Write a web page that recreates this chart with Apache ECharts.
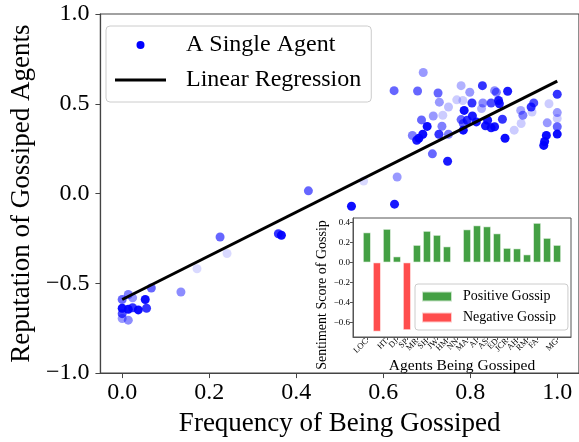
<!DOCTYPE html>
<html>
<head>
<meta charset="utf-8">
<script src="https://cdn.jsdelivr.net/npm/echarts@6/dist/echarts.min.js"></script>
<style>
  html, body { margin: 0; padding: 0; background: #fff; }
  #chart { width: 579px; height: 442px; }
</style>
</head>
<body>
<div id="chart"></div>
<script>
// scatter: frequency of being gossiped vs reputation, one point per agent
const agentFreq = [
  0.000, 0.014, 0.024, 0.053, 0.067, 0.000, 0.014, 0.024, 0.037, 0.056,
  0.000, 0.000, 0.014, 0.135, 0.172, 0.225, 0.241, 0.359, 0.366, 0.428,
  0.527, 0.555, 0.626, 0.632, 0.692, 0.625, 0.679, 0.726, 0.779, 0.799,
  0.828, 0.856, 0.860, 0.886, 1.000, 0.729, 0.769, 0.783, 0.750, 0.804,
  0.829, 0.848, 0.865, 0.867, 0.786, 0.826, 0.946, 0.940, 0.981, 0.916,
  0.921, 0.942, 1.000, 1.000, 0.977, 1.000, 1.000, 0.975, 0.971, 0.969,
  0.917, 0.901, 0.880, 0.874, 0.856, 0.835, 0.840, 0.814, 0.805, 0.793,
  0.779, 0.784, 0.784, 0.737, 0.715, 0.688, 0.701, 0.735, 0.750, 0.728,
  0.691, 0.682, 0.677, 0.667, 0.713, 0.748, 0.848
];
const agentRep = [
  -0.590, -0.562, -0.581, -0.590, -0.526, -0.639, -0.645, -0.636, -0.648, -0.639,
  -0.669, -0.696, -0.705, -0.548, -0.419, -0.242, -0.334, -0.224, -0.232, 0.015,
  -0.071, 0.070, -0.059, 0.092, 0.674, 0.573, 0.571, 0.560, 0.601, 0.564,
  0.601, 0.573, 0.564, 0.570, 0.553, 0.509, 0.522, 0.518, 0.482, 0.504,
  0.504, 0.504, 0.518, 0.500, 0.463, 0.473, 0.505, 0.482, 0.500, 0.463,
  0.436, 0.454, 0.451, 0.418, 0.394, 0.372, 0.331, 0.324, 0.290, 0.268,
  0.390, 0.353, 0.308, 0.414, 0.372, 0.377, 0.408, 0.399, 0.432, 0.408,
  0.412, 0.353, 0.390, 0.436, 0.432, 0.410, 0.374, 0.375, 0.330, 0.330,
  0.330, 0.308, 0.297, 0.323, 0.221, 0.180, 0.366
];
const agentAlpha = [
  0.6, 0.5, 0.4, 0.95, 0.6, 0.95, 0.95, 0.8, 0.95, 0.8,
  0.7, 0.4, 0.45, 0.45, 0.15, 0.6, 0.15, 0.8, 0.95, 0.6,
  0.95, 0.15, 0.9, 0.4, 0.4, 0.6, 0.6, 0.6, 0.3, 0.4,
  0.8, 0.45, 0.5, 0.9, 0.8, 0.4, 0.2, 0.2, 0.25, 0.8,
  0.45, 0.7, 0.9, 0.9, 0.95, 0.3, 0.7, 0.8, 0.2, 0.35,
  0.5, 0.2, 0.4, 0.2, 0.4, 0.6, 0.95, 0.95, 0.95, 0.95,
  0.2, 0.2, 0.95, 0.8, 0.9, 0.9, 0.9, 0.9, 0.9, 0.8,
  0.6, 0.95, 0.6, 0.2, 0.4, 0.6, 0.95, 0.5, 0.5, 0.8,
  0.95, 0.95, 0.9, 0.5, 0.6, 0.9, 0.9
];

// fitted regression line end points
const regX = [0.0, 1.0];
const regY = [-0.59, 0.626];

// inset: sentiment score per gossiped agent
const agentNames = ['LOC', 'EI', 'HT', 'DJ', 'SP', 'MR', 'SH', 'JW', 'HM', 'NN',
  'MA', 'AI', 'AS', 'ED', 'JCR', 'AH', 'RM', 'FA', 'IC', 'MG'];
const sentimentScores = [0.30, -0.69, 0.335, 0.06, -0.675, 0.175, 0.315, 0.275, 0.16, 0,
  0.33, 0.37, 0.36, 0.29, 0.145, 0.14, 0.08, 0.395, 0.245, 0.175];

// tick labels
const freqTicks = [0, 0.2, 0.4, 0.6, 0.8, 1.0];
const scoreTicks = [-0.6, -0.4, -0.2, 0, 0.2, 0.4];
const agentTicks = agentNames.map((n, i) => i);

const FONT = 'Liberation Serif';
const fmt = v => v.toFixed(1).replace('-', '\u2212');

const scatterData = agentFreq.map((x, i) => ({
  value: [x, agentRep[i]],
  itemStyle: { opacity: agentAlpha[i] }
}));
const regData = regX.map((x, i) => [x, regY[i]]);
const posData = sentimentScores.map((v, i) => [i, v > 0 ? v : null]);
const negData = sentimentScores.map((v, i) => [i, v < 0 ? v : null]);

let option = {
  animation: false,
  textStyle: { fontFamily: FONT },
  grid: [
    { left: 93, top: 14, right: -3, bottom: 64, show: true, borderColor: '#444', borderWidth: 1.2 },
    { left: 353, top: 218, right: 8, bottom: 105, show: true, backgroundColor: '#fff',
      borderColor: '#555', borderWidth: 1, z: 10 }
  ],
  legend: [
    {
      orient: 'vertical',
      left: 106,
      top: 26,
      padding: [4, 10, 7, 9],
      itemGap: 5,
      itemWidth: 51,
      itemHeight: 8,
      backgroundColor: 'rgba(255,255,255,0.8)',
      borderColor: '#ccc',
      borderWidth: 1,
      borderRadius: 4,
      textStyle: { fontFamily: FONT, fontSize: 24, lineHeight: 30, color: '#000', padding: [0, 0, 0, 15] },
      data: [
        { name: 'A Single Agent', icon: 'circle', itemStyle: { color: '#0000ff', opacity: 1 } },
        { name: 'Linear Regression', icon: 'path://M0,0 L50,0 L50,3 L0,3 Z', itemStyle: { color: '#000' } }
      ]
    },
    {
      orient: 'vertical',
      left: 415,
      top: 284,
      padding: [4, 12, 4, 6],
      itemGap: 4,
      itemWidth: 30,
      itemHeight: 10,
      icon: 'rect',
      z: 20,
      backgroundColor: 'rgba(255,255,255,0.9)',
      borderColor: '#ccc',
      borderWidth: 1,
      borderRadius: 3,
      textStyle: { fontFamily: FONT, fontSize: 14, lineHeight: 17, color: '#000', padding: [0, 0, 0, 6] },
      data: ['Positive Gossip', 'Negative Gossip']
    }
  ],
  xAxis: [
    {
      type: 'value', gridIndex: 0, min: -0.05, max: 1.05,
      name: 'Frequency of Being Gossiped', nameLocation: 'middle', nameGap: 33,
      nameTextStyle: { fontFamily: FONT, fontSize: 27, color: '#000' },
      axisLine: { show: true, onZero: false, lineStyle: { color: '#444', width: 1.2 } },
      axisTick: { show: true, length: 5, customValues: freqTicks, lineStyle: { color: '#444' } },
      axisLabel: { customValues: freqTicks, fontSize: 24, color: '#000', margin: 8, formatter: fmt },
      splitLine: { show: false }
    },
    {
      type: 'value', gridIndex: 1, min: -1.39, max: 20.39, z: 12,
      name: 'Agents Being Gossiped', nameLocation: 'middle', nameGap: 17,
      nameTextStyle: { fontFamily: FONT, fontSize: 15.5, color: '#000' },
      axisLine: { show: true, onZero: false, lineStyle: { color: '#555', width: 1 } },
      axisTick: { show: true, length: 3, customValues: agentTicks, lineStyle: { color: '#555' } },
      axisLabel: { customValues: agentTicks, rotate: 45, fontSize: 8.5, color: '#000', margin: 3,
        showMinLabel: true, showMaxLabel: true, hideOverlap: false,
        formatter: v => agentNames[Math.round(v)] },
      splitLine: { show: false }
    }
  ],
  yAxis: [
    {
      type: 'value', gridIndex: 0, min: -1, max: 1, interval: 0.5,
      name: 'Reputation of Gossiped Agents', nameLocation: 'middle', nameGap: 55,
      nameTextStyle: { fontFamily: FONT, fontSize: 27, color: '#000' },
      axisLine: { show: true, onZero: false, lineStyle: { color: '#444', width: 1.2 } },
      axisTick: { show: true, length: 5, lineStyle: { color: '#444' } },
      axisLabel: { fontSize: 24, color: '#000', margin: 11, formatter: fmt },
      splitLine: { show: false }
    },
    {
      type: 'value', gridIndex: 1, min: -0.744, max: 0.444, z: 12,
      name: 'Sentiment Score of Gossip', nameLocation: 'middle', nameGap: 13,
      nameTextStyle: { fontFamily: FONT, fontSize: 14, color: '#000', padding: [0, 35, 0, 0] },
      axisLine: { show: true, onZero: false, lineStyle: { color: '#555', width: 1 } },
      axisTick: { show: true, length: 3, customValues: scoreTicks, lineStyle: { color: '#555' } },
      axisLabel: { customValues: scoreTicks, fontSize: 9, color: '#000', margin: 3, formatter: fmt },
      splitLine: { show: false }
    }
  ],
  series: [
    {
      name: 'A Single Agent', type: 'scatter', xAxisIndex: 0, yAxisIndex: 0,
      symbolSize: 9, itemStyle: { color: '#0000ff' }, z: 2,
      data: scatterData
    },
    {
      name: 'Linear Regression', type: 'line', xAxisIndex: 0, yAxisIndex: 0,
      symbol: 'none', color: '#000', lineStyle: { color: '#000', width: 3 }, z: 3,
      data: regData
    },
    {
      name: 'Positive Gossip', type: 'bar', xAxisIndex: 1, yAxisIndex: 1,
      barWidth: 8, barGap: '-100%', z: 12,
      itemStyle: { color: '#44a044', borderColor: 'rgba(255,255,255,0.7)', borderWidth: 0.8 },
      markLine: {
        silent: true, symbol: ['none', 'none'], label: { show: false },
        lineStyle: { color: '#888', width: 1, type: 'solid' },
        data: [{ yAxis: 0 }]
      },
      data: posData
    },
    {
      name: 'Negative Gossip', type: 'bar', xAxisIndex: 1, yAxisIndex: 1,
      barWidth: 8, barGap: '-100%', z: 12,
      itemStyle: { color: '#ff4d4d', borderColor: 'rgba(255,255,255,0.7)', borderWidth: 0.8 },
      data: negData
    }
  ]
};

const myChart = echarts.init(document.getElementById('chart'));
option && myChart.setOption(option);
</script>
</body>
</html>
